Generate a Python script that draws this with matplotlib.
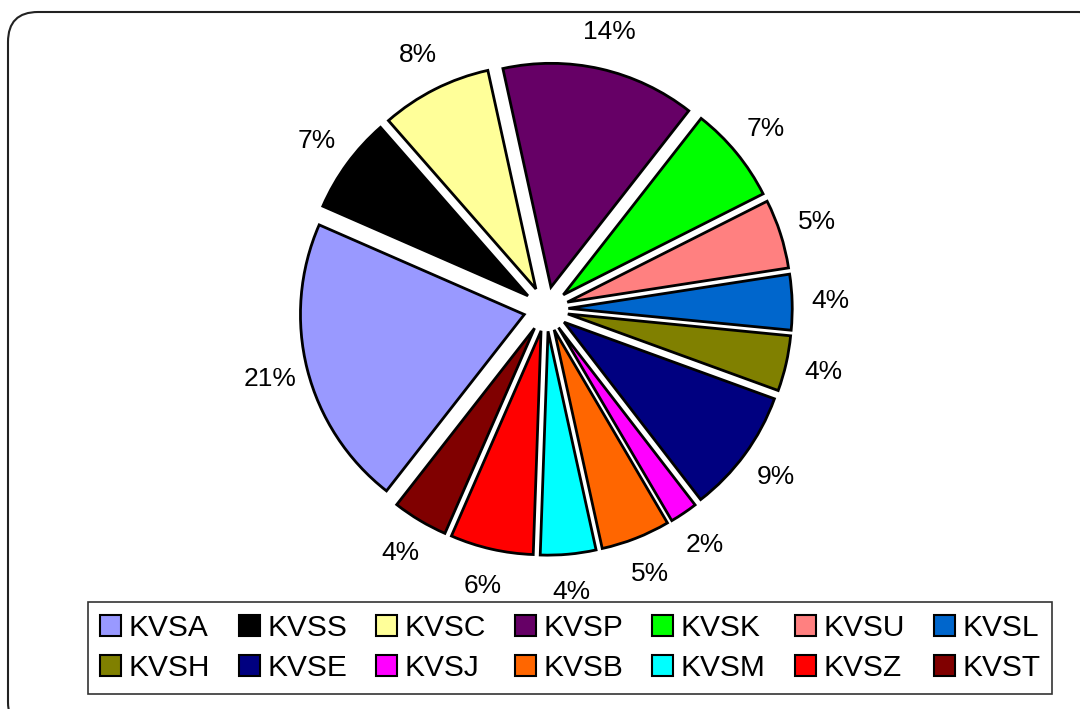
import matplotlib.pyplot as plt
from matplotlib.patches import FancyBboxPatch

# Daten
regionen = ['KVSA', 'KVSS', 'KVSC', 'KVSP', 'KVSK', 'KVSU', 'KVSL',
            'KVSH', 'KVSE', 'KVSJ', 'KVSB', 'KVSM', 'KVSZ', 'KVST']
anteile = [21, 7, 8, 14, 7, 5, 4, 4, 9, 2, 5, 4, 6, 4]
farben = ['#9999FF', '#000000', '#FFFF99', '#660066', '#00FF00', '#FF8080', '#0066CC',
          '#808000', '#000080', '#FF00FF', '#FF6600', '#00FFFF', '#FF0000', '#800000']

plt.rcParams['font.family'] = ['Liberation Sans', 'DejaVu Sans']

fig = plt.figure(figsize=(10.8, 7.09), dpi=100)

# Hintergrund-Rahmen mit runden Ecken (Pixel-Koordinaten)
bg = fig.add_axes([0, 0, 1, 1])
bg.set_xlim(0, 1080)
bg.set_ylim(709, 0)
bg.axis('off')
rahmen = FancyBboxPatch((8, 12), 1100, 720, boxstyle='round,pad=0,rounding_size=30',
                        facecolor='white', edgecolor='#222222', linewidth=1.5)
bg.add_patch(rahmen)

# Tortendiagramm
cx, cy, breite = 546, 400, 582
ax = fig.add_axes([(cx - breite / 2) / 1080, (cy - breite / 2) / 709, breite / 1080, breite / 709])
wedges, texte, prozente = ax.pie(
    anteile, colors=farben, startangle=232, counterclock=False,
    explode=[0.1] * len(anteile), autopct='%1.0f%%', pctdistance=1.17,
    wedgeprops=dict(edgecolor='black', linewidth=2),
    textprops=dict(fontsize=19, color='black'))
ax.set_xlim(-1.3, 1.3)
ax.set_ylim(-1.3, 1.3)
ax.set_aspect('equal')
ax.axis('off')

# Legende zeilenweise anordnen (matplotlib füllt spaltenweise)
ncol = 7
reihenfolge = [r * ncol + c for c in range(ncol) for r in range(2)]
leg = fig.legend([wedges[i] for i in reihenfolge], [regionen[i] for i in reihenfolge],
                 ncol=ncol, loc='center',
                 bbox_to_anchor=(88 / 1080, 19 / 709, 964 / 1080, 84 / 709),
                 mode='expand', borderaxespad=0, fontsize=21.5,
                 handlelength=0.7, handleheight=0.7, handletextpad=0.25,
                 columnspacing=1.0, labelspacing=0.4, fancybox=False,
                 frameon=True, edgecolor='black')
leg.get_frame().set_linewidth(1.2)
for h in leg.legend_handles:
    h.set_linewidth(1.5)

fig.savefig('out.png', dpi=100)
